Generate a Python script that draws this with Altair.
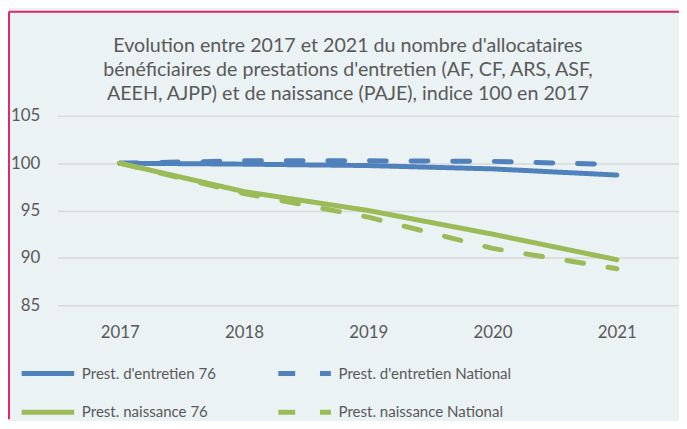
import altair as alt
import pandas as pd

years = ["2017", "2018", "2019", "2020", "2021"]
series_names = [
    "Prest. d'entretien 76",
    "Prest. d'entretien National",
    "Prest. naissance 76",
    "Prest. naissance National",
]
entretien_76 = [100, 99.9, 99.75, 99.4, 98.75]
entretien_nat = [100, 100.25, 100.25, 100.2, 99.85]
naissance_76 = [100, 97.0, 95.0, 92.5, 89.8]
naissance_nat = [100, 96.8, 94.3, 91.0, 88.85]
series_values = [entretien_76, entretien_nat, naissance_76, naissance_nat]
colors = ["#4F81BD", "#4F81BD", "#9BBB59", "#9BBB59"]
dashes = [[1, 0], [17, 25], [1, 0], [17, 25]]
title_lines = [
    "Evolution entre 2017 et 2021 du nombre d'allocataires",
    "bénéficiaires  de prestations d'entretien (AF, CF, ARS, ASF,",
    "AEEH, AJPP) et de naissance (PAJE), indice 100 en 2017",
]

rows = []
for name, vals in zip(series_names, series_values):
    for y, v in zip(years, vals):
        rows.append({"year": y, "value": v, "series": name})
df = pd.DataFrame(rows)

FONT = "Lato"
TXT = "#595959"

legend = alt.Legend(
    title=None, orient="none", legendX=-39, legendY=244, columns=2, direction="horizontal",
    symbolType="M-1,0H3", symbolSize=702, symbolStrokeWidth=5, padding=0,
    labelFont=FONT, labelFontSize=15.2, labelColor=TXT, labelOffset=31.5,
    columnPadding=52, rowPadding=13, labelLimit=400,
)

lines = alt.Chart(df).mark_line(strokeWidth=5, strokeCap="round", strokeJoin="round").encode(
    x=alt.X("year:O", scale=alt.Scale(type="point", padding=0.5),
            axis=alt.Axis(title=None, labelAngle=0, labelPadding=20, ticks=False, domain=False,
                          grid=False, labelFont=FONT, labelFontSize=17, labelColor=TXT)),
    y=alt.Y("value:Q", scale=alt.Scale(domain=[85, 105], nice=False, zero=False),
            axis=alt.Axis(title=None, values=[85, 90, 95, 100, 105], ticks=False, domain=False,
                          labelPadding=18, gridColor="#D9D9D9", gridWidth=1.5,
                          labelFont=FONT, labelFontSize=17, labelColor=TXT)),
    color=alt.Color("series:N", scale=alt.Scale(domain=series_names, range=colors), legend=legend),
    strokeDash=alt.StrokeDash("series:N", scale=alt.Scale(domain=series_names, range=dashes), legend=legend),
)

one = alt.Data(values=[{"a": 0}])
border_left = alt.Chart(one).mark_rule(color="#E3256B", strokeWidth=2).encode(
    x=alt.value(-49), y=alt.value(-105), y2=alt.value(306))
border_top = alt.Chart(one).mark_rule(color="#E3256B", strokeWidth=2).encode(
    x=alt.value(-49), x2=alt.value(627), y=alt.value(-105))

chart = alt.layer(lines, border_left, border_top).properties(
    width=627, height=191,
    padding={"left": 50, "top": 107, "right": 0, "bottom": 115},
    autosize=alt.AutoSizeParams(type="none"),
    background="#EAF2F3",
    title=alt.TitleParams(text=title_lines, font=FONT, fontSize=19.8, fontWeight="normal",
                          color=TXT, anchor="middle", dx=-20.5, dy=104, offset=10, lineHeight=24.5),
).configure_view(stroke=None)

chart.save("out.html", embed_options={"renderer": "svg", "actions": False})
